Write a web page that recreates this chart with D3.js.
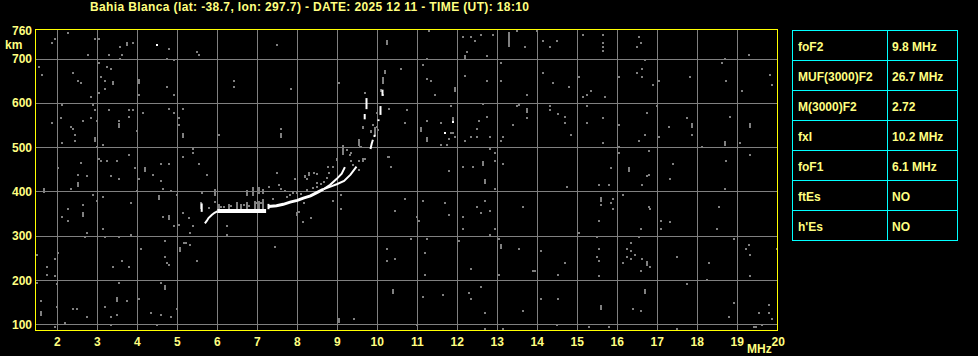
<!DOCTYPE html>
<html>
<head>
<meta charset="utf-8">
<script src="https://cdn.jsdelivr.net/npm/d3@7"></script>
<style>
  body { margin: 0; background: #000; }
  text { font-family: "Liberation Sans", Arial, sans-serif; font-weight: bold; }
</style>
</head>
<body>
<div id="chart"></div>
<script>
// ---- data ----
var title = 'Bahia Blanca (lat: -38.7, lon: 297.7) - DATE: 2025 12 11 - TIME (UT): 18:10';
var freqTicks = [2, 3, 4, 5, 6, 7, 8, 9, 10, 11, 12, 13, 14, 15, 16, 17, 18, 19, 20];
var heightTicks = [100, 200, 300, 400, 500, 600, 700, 760];
var paramNames = ['foF2', 'MUF(3000)F2', 'M(3000)F2', 'fxI', 'foF1', 'ftEs', "h'Es"];
var paramValues = ['9.8 MHz', '26.7 MHz', '2.72', '10.2 MHz', '6.1 MHz', 'NO', 'NO'];

// scattered noise echoes [MHz, km]
var noiseDots = [
  [2.28,759],[1.93,745],[1.88,736],[2.93,745],[3.03,745],[3.88,736],[3.58,727],[2.78,709],[3.28,709],[3.63,709],
  [3.58,700],[4.78,723],[5.49,714],[5.53,709],[7.48,732],[4.73,700],[4.93,696],[3.03,691],[1.53,682],[1.63,664],
  [2.38,668],[3.23,682],[3.33,677],[2.53,650],[2.58,646],[3.08,659],[3.18,650],[2.83,614],[3.03,623],[3.18,632],
  [4.73,637],[4.93,619],[4.03,619],[6.43,650],[6.43,637],[2.13,596],[2.88,596],[2.93,583],[3.28,583],[3.78,583],
  [3.88,583],[4.13,578],[4.78,587],[5.13,587],[4.93,578],[1.88,555],[2.08,565],[2.63,560],[2.83,565],[2.98,560],
  [3.53,560],[3.78,569],[5.03,565],[5.03,551],[6.03,528],[7.58,542],[2.33,546],[2.38,542],[2.43,528],[2.43,515],
  [2.13,510],[3.98,537],[3.13,506],[2.98,501],[5.38,497],[5.38,488],[5.13,479],[3.78,483],[3.03,474],[3.08,470],
  [3.23,470],[3.48,470],[2.58,465],[2.03,452],[2.53,438],[2.73,434],[3.33,434],[3.53,429],[3.93,452],[4.38,438],
  [4.58,461],[4.78,461],[5.53,461],[5.73,438],[7.48,442],[4.03,429],
  [2.33,406],[4.58,424],[4.63,406],[4.83,402],[3.98,402],[2.88,393],[3.13,388],[2.98,379],[3.83,375],[4.98,393],
  [2.63,370],[2.28,361],[2.13,343],[2.28,334],[4.63,343],[5.13,352],[5.28,339],[5.03,325],[4.93,321],[3.13,316],
  [2.73,307],[2.68,298],[3.18,298],[3.53,298],[3.83,302],[5.38,321],[5.33,307],[6.23,321],[6.23,302],[4.68,289],
  [4.08,271],[5.33,280],[7.43,275],[1.48,257],[2.03,262],[1.93,248],[3.63,244],[4.68,253],[4.73,239],[4.78,235],
  [5.48,244],[1.73,230],[3.38,230],[3.78,230],[1.73,212],[1.93,208],[1.48,194],[1.98,190],[3.53,194],[4.58,194],
  [1.58,153],[1.98,140],[2.38,135],[2.48,135],[3.73,153],[4.03,158],[3.18,140],[2.73,117],[3.33,117],[3.48,122],
  [4.33,126],[4.58,122],[4.83,117],[4.98,135],[2.18,104],[1.93,95],[3.33,99],[4.48,99],[5.17,284],[5.21,284],
  [11.28,763],[12.13,750],[12.33,750],[12.43,741],[12.58,754],[12.88,754],[13.48,763],[13.68,727],[12.23,714],[12.73,705],
  [11.23,700],[11.13,686],[10.58,677],[9.03,646],[7.83,632],[11.23,655],[11.33,650],[11.43,619],[12.18,660],[12.73,650],
  [13.08,691],[13.08,650],[13.73,619],[12.63,598],[11.83,592],[13.48,592],[13.53,596],[13.73,565],[13.38,551],[12.73,569],
  [12.53,560],[12.48,542],[12.33,524],[12.48,524],[12.83,524],[13.13,524],[13.08,515],[12.18,515],[11.58,555],[11.83,533],
  [11.88,533],[11.78,519],[11.93,524],[11.58,506],[11.73,506],[11.23,560],[10.68,555],[10.73,583],[10.28,587],[12.83,497],
  [12.93,488],[12.93,470],[13.13,461],[12.13,456],[12.38,456],[11.78,447],[10.28,479],[10.33,456],
  [12.93,406],[10.68,384],[11.13,379],[11.68,375],[10.43,357],[10.98,343],[11.03,334],[11.78,348],[12.13,343],[12.13,316],
  [12.48,366],[12.58,352],[12.68,379],[12.83,357],[12.93,316],[12.83,302],[13.63,366],[10.83,293],[11.23,293],[12.03,289],
  [13.03,293],[13.53,271],[10.23,271],[11.18,262],[10.23,244],[10.43,248],[12.33,226],[11.18,212],[13.03,212],[11.13,162],
  [11.63,167],[12.28,171],[12.33,158],[12.58,185],[12.68,126],[13.63,131],[9.43,113],[10.98,99],[12.68,90],[13.13,90],
  [13.98,763],[14.13,741],[14.33,727],[14.48,741],[15.13,754],[15.63,754],[15.63,736],[15.63,727],[15.63,718],[16.53,750],
  [16.58,736],[16.48,727],[19.28,709],[18.68,700],[18.63,691],[16.68,696],[16.63,677],[16.48,668],[16.63,659],[16.88,641],
  [17.03,650],[17.83,659],[18.73,650],[19.83,664],[19.88,641],[19.13,628],[14.13,668],[14.38,646],[14.78,637],[15.03,659],
  [15.13,614],[15.23,619],[15.33,628],[15.68,614],[16.03,659],[14.33,592],[14.33,583],[14.53,574],[14.68,569],[14.68,555],
  [14.83,528],[15.23,592],[15.23,555],[15.63,565],[15.63,510],[16.03,551],[16.73,578],[16.98,592],[16.68,528],[16.53,515],
  [17.03,524],[17.28,546],[17.73,565],[17.88,528],[18.83,569],[19.08,510],[18.13,501],[16.03,501],[16.03,488],[16.78,492],
  [17.38,461],[15.83,452],[16.78,438],[16.73,434],[17.33,429],[18.73,470],[19.33,483],
  [14.73,411],[15.53,415],[15.78,415],[16.63,415],[18.68,406],[16.13,393],[15.58,370],[15.88,384],[15.83,375],[15.88,361],
  [16.78,366],[16.83,361],[18.53,366],[15.53,334],[17.08,334],[17.33,330],[16.58,316],[17.08,316],[18.48,316],[15.03,307],
  [15.48,298],[16.53,298],[18.93,293],[16.33,284],[19.28,280],[19.23,271],[14.08,266],[15.53,271],[16.23,271],[16.33,266],
  [16.43,257],[16.23,253],[15.48,253],[16.63,248],[16.33,248],[15.53,244],[16.13,239],[14.68,239],[16.83,230],[16.58,221],
  [17.48,253],[18.28,239],[19.33,257],[19.98,271],[13.89,221],[13.93,221],[14.53,212],[15.53,208],[19.33,208],[18.23,199],
  [17.73,190],[14.08,158],[14.53,158],[16.38,135],[16.58,131],[18.93,149],[19.78,144],[19.53,126],[19.78,126],[19.88,113],
  [18.78,117],[14.48,99],[15.28,95],[15.78,95],[17.48,90],[19.41,95],[19.46,95],[19.63,99]
];
// echoes spread over a height range [MHz, km low, km high]
var noiseBars = [
  [3.73,732,736],[3.38,642,647],[4.03,645,651],[3.53,546,552],[5.13,523,529],[7.58,523,529],[2.93,514,520],[4.18,446,452],
  [2.53,414,420],[1.68,400,406],[4.53,383,389],[2.63,346,352],[4.78,338,344],[5.08,266,272],[4.68,180,186],[3.48,153,159],
  [1.58,121,127],[10.23,735,741],[13.28,730,759],[12.18,699,705],[11.93,627,633],[13.73,581,587],[11.08,537,543],
  [11.23,514,520],[12.63,460,466],[11.88,557,566],[12.68,419,425],[13.08,274,280],[10.38,171,177],[9.03,107,113],
  [17.88,546,552],[19.33,546,552],[18.68,505,511],[16.28,446,452],[15.58,379,385],[16.73,234,240],[16.68,171,177],
  [15.58,135,141]
];
var brightDots = [[4.48,732],[11.88,556],[11.68,531]];

// weaker echoes around the F trace
var traceGray = [
  [5.63,397],[5.78,362],[5.93,377],[6.08,364],[6.18,364],[6.33,367],[6.48,369],[6.58,367],[6.68,369],[6.78,367],
  [6.88,403],[6.98,373],[7.03,403],[7.08,373],[7.28,411],[7.38,384],[7.48,442],[7.53,415],[7.58,542],[7.58,528],
  [7.73,388],[7.82,392],[7.90,396],[7.98,397],[8.08,394],[8.18,433],[8.23,429],[8.28,441],[8.48,439],[8.23,403],
  [8.40,407],[8.48,411],[8.58,417],[8.67,422],[7.98,347],[8.05,354],[8.13,332],[8.33,339],[8.0,351],[8.17,375],
  [9.08,392],[8.88,379],[9.08,361],[8.80,442],[8.88,455],[8.98,471],[9.13,488],[9.23,494],[9.32,482],[9.35,470],
  [9.40,460],[9.55,470],[9.65,473],[9.53,448],[9.53,512],[9.57,501],[9.65,543],[9.83,535],[9.88,550],[9.93,528],
  [10.02,539],[10.13,618],[10.08,629],[9.68,622],[10.28,586],[10.27,479],[10.33,456],[10.08,628],[9.64,546],[9.99,578],
  [9.84,537],[9.59,501],[9.99,546],[8.98,474],[8.78,456],[8.43,442],[8.28,438],[8.18,434],[7.93,429],[9.33,486],
  [9.64,470],[9.69,474],[7.60,405],[7.70,400],[8.50,420],[8.75,430]
];
var traceGrayBars = [
  [5.58,362,373],[5.93,392,403],[6.03,360,369],[6.28,360,369],[6.48,362,373],[6.58,362,369],[6.73,392,400],
  [6.88,392,407],[7.03,396,407],[7.13,396,403],[6.73,360,373],[6.93,362,377],[7.03,362,377],[7.13,362,381],
  [10.18,667,672],[10.13,645,656],[9.935,532,543],[9.535,505,516],[9.135,485,502]
];

// F-layer trace (bright)
var traceBar = [[6.0,356],[6.6,356],[7.22,356]];
var traceRise = [[7.28,366],[7.48,368],[7.65,371],[7.82,376],[8.0,380],[8.15,385],[8.33,390],[8.5,398],[8.65,405]];
var traceSegments = [
  [[5.61,354],[5.61,373]],
  [[5.69,328],[5.74,334],[5.78,340],[5.86,347],[5.93,352],[6.0,355]],
  [[7.28,360],[7.28,372]],
  [[8.65,405],[8.82,415],[8.98,428],[9.11,440],[9.19,455]],
  [[8.65,405],[8.83,411],[9.0,417],[9.17,424],[9.33,438],[9.48,456]],
  [[9.685,563],[9.685,575]],
  [[9.73,586],[9.73,611]],
  [[9.83,496],[9.86,508],[9.89,517]],
  [[9.93,523],[9.93,528]],
  [[10.03,559],[10.03,563]],
  [[10.08,573],[10.08,593]],
  [[10.13,616],[10.13,630]]
];

// ---- drawing ----
var width = 978;
var height = 356;
var textColor = '#ffff80';

var svg = d3.select('#chart')
    .append('svg')
    .attr('width', width)
    .attr('height', height)
    .style('background', '#000');

var x = d3.scaleLinear().domain([1.4675, 20]).range([36, 777.3]);
var y = d3.scaleLinear().domain([87.1, 764.8]).range([330, 30]);

// grid
svg.append('g')
    .selectAll('line')
    .data(freqTicks.filter(d => d < 20))
    .enter()
    .append('line')
    .attr('x1', d => Math.round(x(d)) + 0.5)
    .attr('x2', d => Math.round(x(d)) + 0.5)
    .attr('y1', y.range()[1])
    .attr('y2', y.range()[0])
    .attr('stroke', '#808080')
    .attr('shape-rendering', 'crispEdges');

svg.append('g')
    .selectAll('line')
    .data(heightTicks.filter(d => d < 760))
    .enter()
    .append('line')
    .attr('y1', d => Math.round(y(d)) + 0.5)
    .attr('y2', d => Math.round(y(d)) + 0.5)
    .attr('x1', x.range()[0])
    .attr('x2', x.range()[1])
    .attr('stroke', '#808080')
    .attr('shape-rendering', 'crispEdges');

// dots
function drawDots(data, color) {
    svg.append('g')
        .selectAll('rect')
        .data(data)
        .enter()
        .append('rect')
        .attr('x', d => Math.round(x(d[0])) - 1)
        .attr('y', d => Math.round(y(d[1])) - 1)
        .attr('width', 2)
        .attr('height', 2)
        .attr('fill', color)
        .attr('shape-rendering', 'crispEdges');
}
function drawBars(data, color) {
    svg.append('g')
        .selectAll('rect')
        .data(data)
        .enter()
        .append('rect')
        .attr('x', d => Math.round(x(d[0])) - 1)
        .attr('y', d => Math.round(y(d[2])) - 1)
        .attr('width', 2)
        .attr('height', d => Math.max(2, Math.round(y(d[1]) - y(d[2])) + 2))
        .attr('fill', color)
        .attr('shape-rendering', 'crispEdges');
}
drawDots(noiseDots, '#808080');
drawBars(noiseBars, '#808080');
drawDots(traceGray, '#808080');
drawBars(traceGrayBars, '#808080');
drawDots(brightDots, '#ffffff');

// trace
var line = d3.line().x(d => x(d[0])).y(d => y(d[1]));
svg.append('path')
    .attr('d', line(traceBar))
    .attr('fill', 'none')
    .attr('stroke', '#fff')
    .attr('stroke-width', 4);
svg.append('path')
    .attr('d', line(traceRise))
    .attr('fill', 'none')
    .attr('stroke', '#fff')
    .attr('stroke-width', 3);
svg.append('g')
    .selectAll('path')
    .data(traceSegments)
    .enter()
    .append('path')
    .attr('d', d => line(d))
    .attr('fill', 'none')
    .attr('stroke', '#fff')
    .attr('stroke-width', 2);

// frame
svg.append('rect')
    .attr('x', x.range()[0] - 0.5)
    .attr('y', y.range()[1] - 0.5)
    .attr('width', x.range()[1] - x.range()[0] + 1)
    .attr('height', y.range()[0] - y.range()[1] + 1)
    .attr('fill', 'none')
    .attr('stroke', '#ffff00')
    .attr('shape-rendering', 'crispEdges');

// tick labels
svg.append('g')
    .selectAll('text')
    .data(freqTicks)
    .enter()
    .append('text')
    .attr('x', d => d === 20 ? x(d) + 1 : x(d))
    .attr('y', 346)
    .attr('text-anchor', 'middle')
    .attr('font-size', 12)
    .attr('fill', textColor)
    .text(d => d);

svg.append('text')
    .attr('x', 747)
    .attr('y', 352.5)
    .attr('font-size', 12)
    .attr('fill', textColor)
    .text('MHz');

svg.append('g')
    .selectAll('text')
    .data(heightTicks)
    .enter()
    .append('text')
    .attr('x', 32)
    .attr('y', d => d === 760 ? y(d) + 3 : y(d) + 4.5)
    .attr('text-anchor', 'end')
    .attr('font-size', 12)
    .attr('fill', textColor)
    .text(d => d);

svg.append('text')
    .attr('x', 5)
    .attr('y', 48.5)
    .attr('font-size', 12)
    .attr('fill', textColor)
    .text('km');

// title
svg.append('text')
    .attr('x', 90)
    .attr('y', 11)
    .attr('font-size', 12)
    .attr('fill', textColor)
    .attr('textLength', 439)
    .attr('lengthAdjust', 'spacing')
    .text(title);

// parameter table
var tableX = 792, tableW = 165, colX = 887, rowH = 30, tableY = 30;
var table = svg.append('g');
table.selectAll('rect')
    .data(paramNames)
    .enter()
    .append('rect')
    .attr('x', tableX + 0.5)
    .attr('y', (d, i) => tableY + i * rowH + 0.5)
    .attr('width', tableW)
    .attr('height', rowH)
    .attr('fill', 'none')
    .attr('stroke', '#00ffff')
    .attr('shape-rendering', 'crispEdges');
table.append('line')
    .attr('x1', colX + 0.5)
    .attr('x2', colX + 0.5)
    .attr('y1', tableY)
    .attr('y2', tableY + rowH * paramNames.length)
    .attr('stroke', '#00ffff')
    .attr('shape-rendering', 'crispEdges');
table.selectAll('text.name')
    .data(paramNames)
    .enter()
    .append('text')
    .attr('class', 'name')
    .attr('x', tableX + 6)
    .attr('y', (d, i) => tableY + i * rowH + 20.5)
    .attr('font-size', 12)
    .attr('fill', textColor)
    .text(d => d);
table.selectAll('text.value')
    .data(paramValues)
    .enter()
    .append('text')
    .attr('class', 'value')
    .attr('x', colX + 5)
    .attr('y', (d, i) => tableY + i * rowH + 20.5)
    .attr('font-size', 12)
    .attr('fill', textColor)
    .text(d => d);
</script>
</body>
</html>
